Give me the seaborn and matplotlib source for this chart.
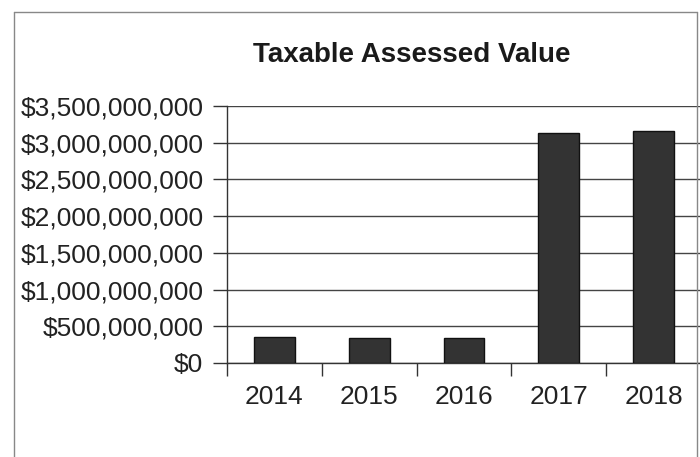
import matplotlib
matplotlib.use("Agg")
import matplotlib.pyplot as plt
from matplotlib.lines import Line2D
from matplotlib.ticker import FuncFormatter, MultipleLocator, FixedLocator
import seaborn as sns
import pandas as pd

# Taxable assessed value by year
years = ["2014", "2015", "2016", "2017", "2018"]
assessed_values = [360_000_000, 345_000_000, 345_000_000, 3_130_000_000, 3_160_000_000]
title = "Taxable Assessed Value"

sns.set_theme(style="white")
plt.rcParams["font.family"] = ["Liberation Sans", "DejaVu Sans"]

df = pd.DataFrame({"Year": years, "Value": assessed_values})

fig = plt.figure(figsize=(7.0, 4.57), dpi=100)
ax = fig.add_axes([227 / 700, 94 / 457, 474 / 700, 257 / 457])

sns.barplot(data=df, x="Year", y="Value", color="#333333", edgecolor="#111111",
            linewidth=1.0, width=0.43, saturation=1, ax=ax, zorder=3)

ax.set_xlim(-0.5, len(years) - 0.5)
ax.set_ylim(0, 3_500_000_000)
ax.yaxis.set_major_locator(MultipleLocator(500_000_000))
ax.yaxis.set_major_formatter(FuncFormatter(lambda v, _: f"${v:,.0f}"))

# category labels centred, tick marks on category boundaries
ax.set_xticks(range(len(years)))
ax.set_xticklabels(years)
ax.xaxis.set_minor_locator(FixedLocator([i - 0.5 for i in range(len(years) + 1)]))
ax.tick_params(axis="x", which="major", length=0, pad=16, labelsize=19, colors="#222222")
ax.tick_params(axis="x", which="minor", length=9, width=1, color="#333333", bottom=True)
ax.tick_params(axis="y", which="major", length=10, width=1, color="#333333",
               pad=7, labelsize=19, labelcolor="#222222", left=True)

ax.grid(axis="y", color="#444444", linewidth=1.0, zorder=0)
ax.grid(axis="x", visible=False)
ax.set_axisbelow(True)

for side in ["top", "right"]:
    ax.spines[side].set_visible(False)
for side in ["left", "bottom"]:
    ax.spines[side].set_color("#333333")
    ax.spines[side].set_linewidth(1.0)

ax.set_xlabel("")
ax.set_ylabel("")

fig.text(412 / 700, (457 - 62) / 457, title, ha="center", va="baseline",
         fontsize=20, fontweight="bold", color="#1a1a1a")

# outer chart frame
frame_kw = dict(color="#888888", linewidth=1.0, transform=fig.transFigure)
fig.add_artist(Line2D([14 / 700, 14 / 700], [0, 1 - 12 / 457], **frame_kw))
fig.add_artist(Line2D([14 / 700, 697 / 700], [1 - 12 / 457, 1 - 12 / 457], **frame_kw))
fig.add_artist(Line2D([697 / 700, 697 / 700], [0, 1 - 12 / 457], **frame_kw))

fig.savefig("out.png", dpi=100, facecolor="white")
